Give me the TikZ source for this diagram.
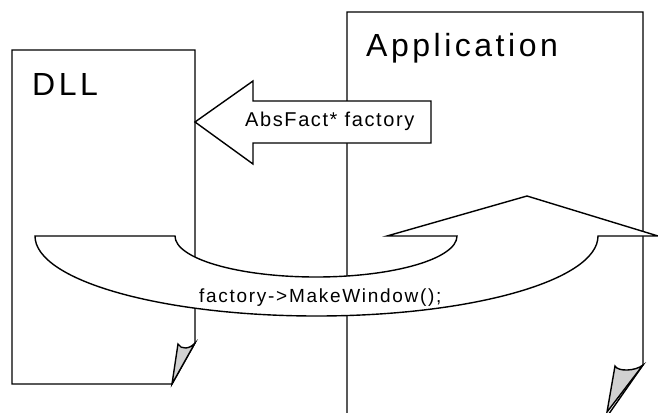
\documentclass[tikz,border=0pt]{standalone}
\usepackage{fontspec}
\setmainfont{Liberation Sans}
\newfontfamily\bigfont[LetterSpace=11]{Liberation Sans}
\newfontfamily\midfont[LetterSpace=8]{Liberation Sans}
\newfontfamily\callfont[LetterSpace=9]{Liberation Sans}
\begin{document}
\begin{tikzpicture}[x=1pt,y=-1pt,
  outline/.style={draw=black,line width=1.4pt,line join=miter},
  sheet/.style={outline,fill=white},
  curl/.style={outline,fill=black!18},
  arrowbody/.style={outline,fill=white},
  title/.style={anchor=base west,inner sep=0pt,font=\bigfont\fontsize{32}{38}\selectfont},
  ]
\useasboundingbox (0,0) rectangle (658,412);
\begin{scope}
\clip (0,0) rectangle (658,412);

% DLL sheet with curled corner
\draw[sheet] (12,50) -- (195,50) -- (195,343) -- (172,384) -- (12,384) -- cycle;
\draw[curl] (172,384) -- (178,344) .. controls (181,350) and (190,349) .. (195,343) -- cycle;
\node[title] (dll) at (32,95) {DLL};

% Application sheet with curled corner
\draw[sheet] (347,12) -- (643,12) -- (643,365) -- (606,418) -- (347,418) -- cycle;
\draw[curl] (607,412) -- (615,366) .. controls (618,372) and (636,371) .. (643,365) -- cycle;
\node[title] (app) at (366,56.5) {Application};

% Block arrow passing the factory pointer to the DLL
\draw[arrowbody] (195,122) -- (253,81) -- (253,101) -- (431,101) -- (431,143)
  -- (253,143) -- (253,164) -- cycle;
\node[anchor=base west,inner sep=0pt,font=\midfont\fontsize{20}{24}\selectfont]
  (ptr) at (245,126.5) {AbsFact* factory};

% Curved call-back arrow
\draw[arrowbody] (35,236) -- (175,236)
  arc[start angle=180,end angle=0,x radius=141,y radius=41]
  -- (387,236) -- (527,196) -- (658,236) -- (598,236)
  arc[start angle=0,end angle=180,x radius=281.5,y radius=80]
  -- cycle;
\node[anchor=base west,inner sep=0pt,font=\callfont\fontsize{19}{23}\selectfont]
  (call) at (199,302.5) {factory->MakeWindow();};
\end{scope}
\end{tikzpicture}
\end{document}
